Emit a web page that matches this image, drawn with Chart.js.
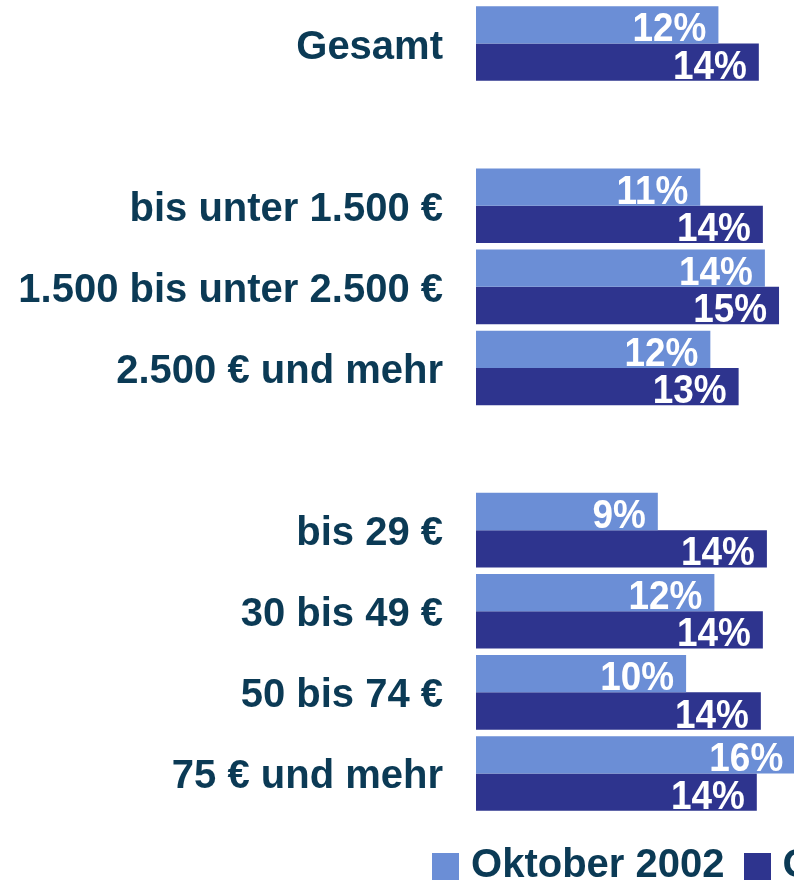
<!DOCTYPE html>
<html lang="de">
<head>
<meta charset="utf-8">
<title>Anteil nach Einkommen und Ausgaben</title>
<script src="https://cdn.jsdelivr.net/npm/chart.js@4"></script>
<style>
    html, body { margin: 0; padding: 0; overflow: hidden; background: #fff; }
    .content { position: relative; width: 1476px; height: 896px; }
</style>
</head>
<body>
<div class="content"><canvas id="myChart"></canvas></div>
<script>
// Kategorien (leere Einträge = Abstand zwischen den Gruppen)
const categories = ['Gesamt', '', 'bis unter 1.500 €', '1.500 bis unter 2.500 €', '2.500 € und mehr', '', 'bis 29 €', '30 bis 49 €', '50 bis 74 €', '75 € und mehr'];
const seriesNames = ['Oktober 2002', 'Oktober 2003'];
const oktober2002 = [12.0, null, 11.1, 14.3, 11.6, null, 9.0, 11.8, 10.4, 15.8];
const oktober2003 = [14.0, null, 14.2, 15.0, 13.0, null, 14.4, 14.2, 14.1, 13.9];
const colors = ['#6b8ed6', '#2e348e'];

document.addEventListener('DOMContentLoaded', () => {
    const myChartCanvas = document.getElementById('myChart');
    const textColor = '#0b3a55';
    const fontFamily = '"Liberation Sans", Arial, sans-serif';
    Chart.defaults.font.family = fontFamily;

    // Legendenkästchen als kleine Canvas-Bilder
    const swatches = colors.map(c => {
        const s = document.createElement('canvas');
        s.width = 27;
        s.height = 27;
        const sctx = s.getContext('2d');
        sctx.fillStyle = c;
        sctx.fillRect(0, 0, 27, 27);
        return s;
    });

    // Prozentwerte in die Balken schreiben
    const barLabels = {
        id: 'barLabels',
        afterDatasetsDraw(chart) {
            const ctx = chart.ctx;
            chart.data.datasets.forEach((ds, di) => {
                chart.getDatasetMeta(di).data.forEach((bar, i) => {
                    const v = ds.data[i];
                    if (v === null || v === undefined) return;
                    ctx.save();
                    ctx.font = 'bold 41px ' + fontFamily;
                    ctx.fillStyle = '#ffffff';
                    ctx.textAlign = 'right';
                    ctx.textBaseline = 'alphabetic';
                    ctx.translate(bar.x - 12, bar.y + 16.5);
                    ctx.scale(0.9, 1);
                    ctx.fillText(Math.round(v) + '%', 0, 0);
                    ctx.restore();
                });
            });
        }
    };

    new Chart(myChartCanvas, {
        type: 'bar',
        data: {
            labels: categories,
            datasets: [
                { label: seriesNames[0], data: oktober2002, backgroundColor: colors[0] },
                { label: seriesNames[1], data: oktober2003, backgroundColor: colors[1] }
            ]
        },
        options: {
            indexAxis: 'y',
            responsive: true,
            maintainAspectRatio: false,
            animation: false,
            layout: { padding: { top: 3, left: 0, right: 0, bottom: 0 } },
            datasets: {
                bar: { categoryPercentage: 0.92, barPercentage: 1.0 }
            },
            scales: {
                x: {
                    min: 0,
                    max: 49.5,
                    grid: { display: false, drawTicks: false },
                    border: { display: false },
                    ticks: { display: false },
                    afterFit: scale => { scale.height = 5; }
                },
                y: {
                    grid: { display: false, drawTicks: false },
                    border: { display: false },
                    ticks: {
                        padding: 33,
                        labelOffset: 4,
                        color: textColor,
                        font: { size: 40, weight: 'bold' }
                    },
                    afterFit: scale => {
                        scale.width = 476;
                        scale.paddingTop = 0;
                        scale.paddingBottom = 0;
                    }
                }
            },
            plugins: {
                tooltip: { enabled: false },
                legend: {
                    position: 'bottom',
                    labels: {
                        usePointStyle: true,
                        boxWidth: 11,
                        padding: 27,
                        color: textColor,
                        font: { size: 40, weight: 'bold' },
                        generateLabels: chart =>
                            Chart.defaults.plugins.legend.labels.generateLabels(chart)
                                .map((item, i) => ({ ...item, pointStyle: swatches[i] }))
                    }
                }
            }
        },
        plugins: [barLabels]
    });
});
</script>
</body>
</html>
